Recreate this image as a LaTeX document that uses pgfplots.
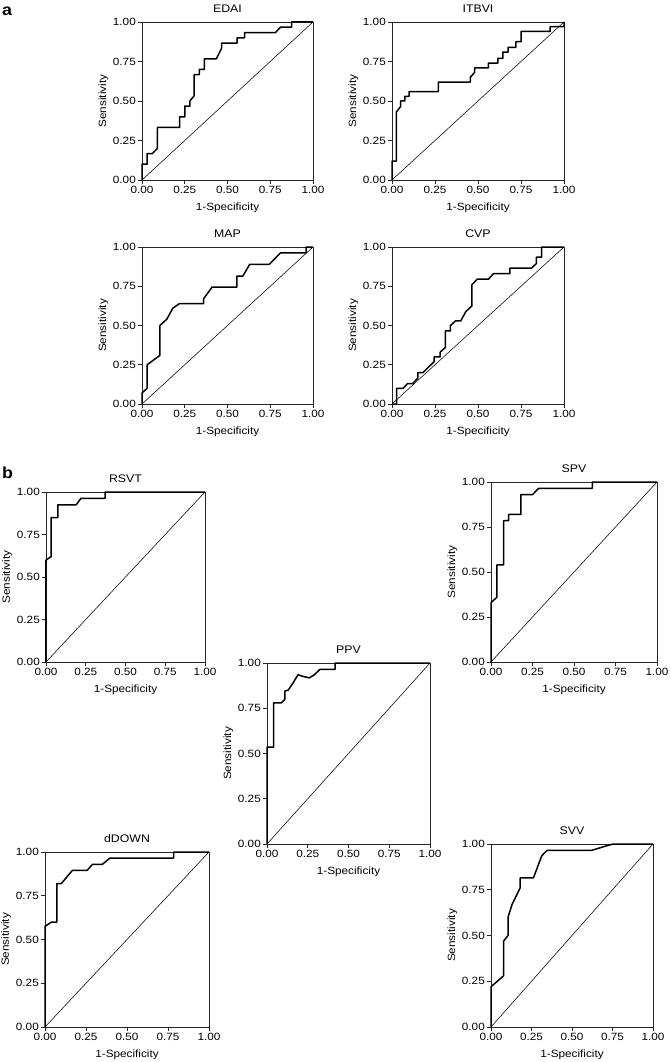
\documentclass[border=0pt]{standalone}
\usepackage{pgfplots}
\pgfplotsset{compat=1.18}
\usepackage{fontspec}
\setmainfont[FakeStretch=1.12]{Liberation Sans}
\begin{document}
\begin{tikzpicture}[x=1pt,y=1pt]
\useasboundingbox (0pt,0pt) rectangle (670pt,-1062pt);
\pgfplotsset{
 roc/.style={
  scale only axis, anchor=north west, clip=false,
  xmin=0,xmax=1,ymin=0,ymax=1,
  xtick={0,0.25,0.5,0.75,1}, ytick={0,0.25,0.5,0.75,1},
  tick pos=left, tick align=outside, major tick length=4pt,
  /pgf/number format/fixed, /pgf/number format/fixed zerofill, /pgf/number format/precision=2,
  /pgf/number format/assume math mode=true,
  every tick label/.append style={font=\fontsize{10.5}{12}\selectfont},
  xticklabel style={inner sep=2pt},
  yticklabel style={inner sep=2pt},
  tick style={black!85, line width=0.7pt},
  xlabel={1-Specificity}, ylabel={Sensitivity},
  every axis x label/.style={at={(0.5,0)}, anchor=base, yshift=-30.5pt, font=\fontsize{10.5}{12}\selectfont},
  every axis y label/.style={at={(0,0.5)}, xshift=-36pt, rotate=90, anchor=base, font=\fontsize{10.5}{12}\selectfont},
  title style={at={(0.5,1)}, anchor=south, yshift=1pt, inner sep=2pt, font=\fontsize{11}{13}\selectfont},
  axis line style={line width=0.8pt, black!85},
 },
 curve/.style={line width=1.5pt, black, line join=round, mark=none},
 diag/.style={line width=0.55pt, black, mark=none},
}
\node[anchor=base west, font=\fontsize{16}{18}\selectfont\bfseries, inner sep=0pt] at (2pt,-16pt) {a};
\node[anchor=base west, font=\fontsize{16}{18}\selectfont\bfseries, inner sep=0pt] at (2pt,-478pt) {b};

% EDAI
\begin{axis}[roc, at={(142pt,-22pt)}, width=171pt, height=158pt, title={EDAI}]
\addplot[diag] coordinates {(0,0)(1,1)};
\addplot[curve] coordinates {(0,0)(0,0.10)(0.03,0.10)(0.03,0.167)(0.06,0.167)(0.09,0.20)(0.09,0.333)(0.22,0.333)(0.22,0.40)(0.25,0.40)(0.25,0.467)(0.28,0.467)(0.28,0.50)(0.305,0.533)(0.305,0.667)(0.335,0.667)(0.335,0.70)(0.365,0.70)(0.365,0.767)(0.435,0.767)(0.465,0.833)(0.465,0.867)(0.556,0.867)(0.556,0.90)(0.60,0.90)(0.60,0.933)(0.78,0.933)(0.81,0.967)(0.875,0.967)(0.875,1.0)(1,1)};
\end{axis}

% ITBVI
\begin{axis}[roc, at={(392pt,-22pt)}, width=172pt, height=158pt, title={ITBVI}]
\addplot[diag] coordinates {(0,0)(1,1)};
\addplot[curve] coordinates {(0,0)(0,0.12)(0.025,0.12)(0.025,0.43)(0.05,0.465)(0.05,0.50)(0.075,0.50)(0.075,0.53)(0.10,0.53)(0.10,0.56)(0.27,0.56)(0.27,0.62)(0.455,0.62)(0.455,0.65)(0.48,0.68)(0.48,0.71)(0.56,0.71)(0.56,0.74)(0.615,0.74)(0.615,0.77)(0.645,0.77)(0.645,0.81)(0.675,0.81)(0.675,0.84)(0.72,0.84)(0.72,0.875)(0.75,0.875)(0.75,0.94)(0.92,0.94)(0.92,0.97)(1,0.97)(1,1)};
\end{axis}

% MAP
\begin{axis}[roc, at={(142pt,-247pt)}, width=171pt, height=157pt, title={MAP}]
\addplot[diag] coordinates {(0,0)(1,1)};
\addplot[curve] coordinates {(0,0)(0,0.07)(0.03,0.10)(0.03,0.25)(0.105,0.31)(0.105,0.50)(0.145,0.54)(0.18,0.61)(0.22,0.64)(0.36,0.64)(0.36,0.67)(0.41,0.745)(0.555,0.745)(0.555,0.815)(0.59,0.815)(0.63,0.89)(0.745,0.89)(0.81,0.963)(0.96,0.963)(0.96,1.0)(1,1)};
\end{axis}

% CVP
\begin{axis}[roc, at={(392pt,-247pt)}, width=172pt, height=157pt, title={CVP}]
\addplot[diag] coordinates {(0,0)(1,1)};
\addplot[curve] coordinates {(0,0)(0.027,0)(0.027,0.10)(0.065,0.10)(0.09,0.13)(0.12,0.13)(0.15,0.165)(0.15,0.20)(0.18,0.20)(0.245,0.27)(0.245,0.30)(0.28,0.30)(0.28,0.33)(0.31,0.36)(0.31,0.465)(0.34,0.465)(0.34,0.50)(0.37,0.53)(0.40,0.53)(0.43,0.59)(0.465,0.625)(0.465,0.76)(0.495,0.795)(0.56,0.795)(0.59,0.83)(0.685,0.83)(0.685,0.865)(0.81,0.865)(0.84,0.895)(0.84,0.935)(0.87,0.935)(0.87,1.0)(1,1)};
\end{axis}

% RSVT
\begin{axis}[roc, at={(46pt,-492pt)}, width=159pt, height=170pt, title={RSVT}]
\addplot[diag] coordinates {(0,0)(1,1)};
\addplot[curve] coordinates {(0,0)(0,0.60)(0.033,0.62)(0.033,0.85)(0.075,0.85)(0.075,0.925)(0.19,0.925)(0.22,0.963)(0.372,0.963)(0.372,1)(1,1)};
\end{axis}

% SPV
\begin{axis}[roc, at={(491pt,-482pt)}, width=166pt, height=180pt, title={SPV}]
\addplot[diag] coordinates {(0,0)(1,1)};
\addplot[curve] coordinates {(0,0)(0,0.33)(0.036,0.36)(0.036,0.54)(0.076,0.54)(0.076,0.785)(0.106,0.785)(0.106,0.82)(0.18,0.82)(0.18,0.93)(0.25,0.93)(0.287,0.965)(0.61,0.965)(0.61,1)(1,1)};
\end{axis}

% PPV
\begin{axis}[roc, at={(267pt,-663pt)}, width=163pt, height=181pt, title={PPV}]
\addplot[diag] coordinates {(0,0)(1,1)};
\addplot[curve] coordinates {(0,0)(0,0.535)(0.04,0.535)(0.04,0.78)(0.088,0.78)(0.10,0.79)(0.11,0.80)(0.11,0.845)(0.13,0.85)(0.16,0.89)(0.19,0.935)(0.225,0.925)(0.26,0.918)(0.29,0.935)(0.325,0.965)(0.418,0.965)(0.418,1)(1,1)};
\end{axis}

% dDOWN
\begin{axis}[roc, at={(45pt,-852pt)}, width=164pt, height=175pt, title={dDOWN}]
\addplot[diag] coordinates {(0,0)(1,1)};
\addplot[curve] coordinates {(0,0)(0,0.575)(0.04,0.60)(0.073,0.60)(0.073,0.82)(0.10,0.82)(0.167,0.895)(0.257,0.895)(0.29,0.93)(0.35,0.93)(0.396,0.965)(0.784,0.965)(0.784,1)(1,1)};
\end{axis}

% SVV
\begin{axis}[roc, at={(491pt,-844pt)}, width=162pt, height=183pt, title={SVV}]
\addplot[diag] coordinates {(0,0)(1,1)};
\addplot[curve] coordinates {(0,0)(0,0.22)(0.078,0.28)(0.078,0.47)(0.105,0.50)(0.105,0.60)(0.13,0.67)(0.18,0.76)(0.18,0.815)(0.262,0.815)(0.313,0.935)(0.345,0.965)(0.62,0.965)(0.713,0.99)(0.754,1.0)(1,1)};
\end{axis}
\end{tikzpicture}
\end{document}
